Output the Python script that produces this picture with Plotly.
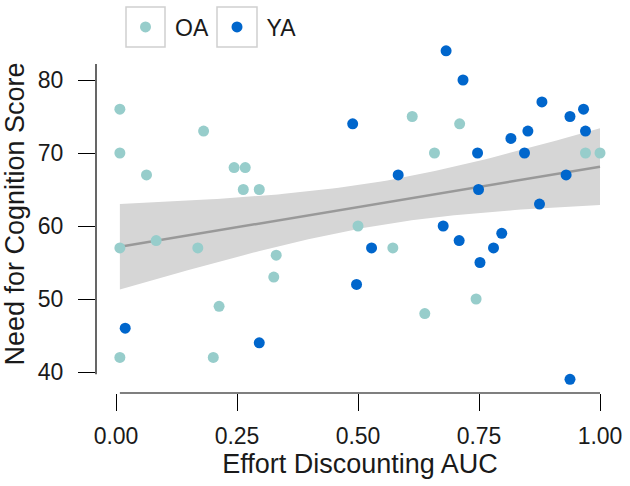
import numpy as np
import plotly.graph_objects as go

# ---------------- data ----------------
oa_auc = [0.008, 0.008, 0.063, 0.181, 0.244, 0.267, 0.263, 0.296, 0.008, 0.083,
          0.169, 0.331, 0.326, 0.213, 0.008, 0.201, 0.612, 0.710, 0.658, 0.500,
          0.572, 0.744, 0.638, 0.970, 1.000]
oa_nfc = [76, 70, 67, 73, 68, 68, 65, 65, 57, 58,
          57, 56, 53, 49, 42, 42, 75, 74, 70, 60,
          57, 50, 48, 70, 70]

ya_auc = [0.019, 0.296, 0.682, 0.717, 0.489, 0.747, 0.583, 0.749, 0.676, 0.528,
          0.709, 0.752, 0.497, 0.880, 0.938, 0.966, 0.970, 0.851, 0.816, 0.844,
          0.930, 0.875, 0.797, 0.780, 0.938]
ya_nfc = [46, 44, 84, 80, 74, 70, 67, 65, 60, 57,
          58, 55, 52, 77, 75, 76, 73, 73, 72, 70,
          67, 63, 59, 57, 39]

x_ticks = [0.0, 0.25, 0.5, 0.75, 1.0]
x_ticklabels = ["0.00", "0.25", "0.50", "0.75", "1.00"]
y_ticks = [40, 50, 60, 70, 80]
y_frame = [39.7, 82.2]

# ---------------- style ----------------
OA_COL = "#97CDCB"
YA_COL = "#0066CC"
FONT = "Liberation Sans"

# ---------------- linear fit with 95% CI ----------------
x_all = np.array(oa_auc + ya_auc, dtype=float)
y_all = np.array(oa_nfc + ya_nfc, dtype=float)
n = len(x_all)
b1, b0 = np.polyfit(x_all, y_all, 1)
resid = y_all - (b0 + b1 * x_all)
s = np.sqrt(np.sum(resid ** 2) / (n - 2))
xbar = x_all.mean()
sxx = np.sum((x_all - xbar) ** 2)
t_crit = 2.0106  # t(0.975, df=48)
xs = np.linspace(x_all.min(), x_all.max(), 80)
fit = b0 + b1 * xs
se = s * np.sqrt(1.0 / n + (xs - xbar) ** 2 / sxx)
lo = fit - t_crit * se
hi = fit + t_crit * se

fig = go.Figure()
fig.add_trace(go.Scatter(
    x=np.concatenate([xs, xs[::-1]]), y=np.concatenate([hi, lo[::-1]]),
    fill="toself", fillcolor="#D6D6D6", line=dict(width=0),
    mode="lines", showlegend=False, hoverinfo="skip"))
fig.add_trace(go.Scatter(x=xs, y=fit, mode="lines",
                         line=dict(color="#999999", width=2.5),
                         showlegend=False, hoverinfo="skip"))
fig.add_trace(go.Scatter(x=oa_auc, y=oa_nfc, mode="markers", name="OA",
                         marker=dict(color=OA_COL, size=11)))
fig.add_trace(go.Scatter(x=ya_auc, y=ya_nfc, mode="markers", name="YA",
                         marker=dict(color=YA_COL, size=11)))

# range-frame axis lines
fig.add_shape(type="line", xref="x", yref="paper",
              x0=float(x_all.min()), x1=float(x_all.max()), y0=0, y1=0,
              line=dict(color="black", width=1.2))
fig.add_shape(type="line", xref="paper", yref="y",
              x0=0, x1=0, y0=y_frame[0], y1=y_frame[1],
              line=dict(color="black", width=1.2))

# legend key boxes
L, T, PW, PH = 96, 35, 528, 358
def px2paper(px, py):
    return (px - L) / PW, (T + PH - py) / PH
for x0p, x1p in [(126, 165), (217, 257)]:
    a0, b0_ = px2paper(x0p, 47)
    a1, b1_ = px2paper(x1p, 7)
    fig.add_shape(type="rect", xref="paper", yref="paper",
                  x0=a0, x1=a1, y0=b0_, y1=b1_,
                  line=dict(color="#D0D0D0", width=1.5), fillcolor="rgba(0,0,0,0)")

fig.update_layout(
    width=630, height=486,
    margin=dict(l=L, r=630 - L - PW, t=T, b=486 - T - PH, autoexpand=False),
    paper_bgcolor="white", plot_bgcolor="white",
    font=dict(family=FONT, size=23, color="#1a1a1a"),
    showlegend=True,
    legend=dict(orientation="h", xref="container", yref="container",
                x=116 / 630, y=1 - 27 / 486, xanchor="left", yanchor="middle",
                itemwidth=49, entrywidth=27.5, entrywidthmode="pixels",
                font=dict(size=23, color="#1a1a1a"), bgcolor="rgba(0,0,0,0)",
                borderwidth=0),
    xaxis=dict(range=[(96 - 116) / 484, (624 - 116) / 484],
               tickvals=x_ticks, ticktext=x_ticklabels,
               ticks="outside", ticklen=17, tickwidth=1.2, tickcolor="black",
               showline=False, showgrid=False, zeroline=False, automargin=False,
               ticklabelstandoff=5,
               title=dict(text="Effort Discounting AUC", font=dict(size=27, color="#1a1a1a"),
                          standoff=6)),
    yaxis=dict(range=[80 - (393 - 80) / 7.3, 80 + (80 - 35) / 7.3],
               tickvals=y_ticks,
               ticks="outside", ticklen=17, tickwidth=1.2, tickcolor="black",
               showline=False, showgrid=False, zeroline=False, automargin=False,
               ticklabelstandoff=10,
               title=dict(text="Need for Cognition Score", font=dict(size=27, color="#1a1a1a"),
                          standoff=6)),
)

fig.write_html("out.html", config={"displayModeBar": False},
               post_script="document.body.style.margin='0';")
